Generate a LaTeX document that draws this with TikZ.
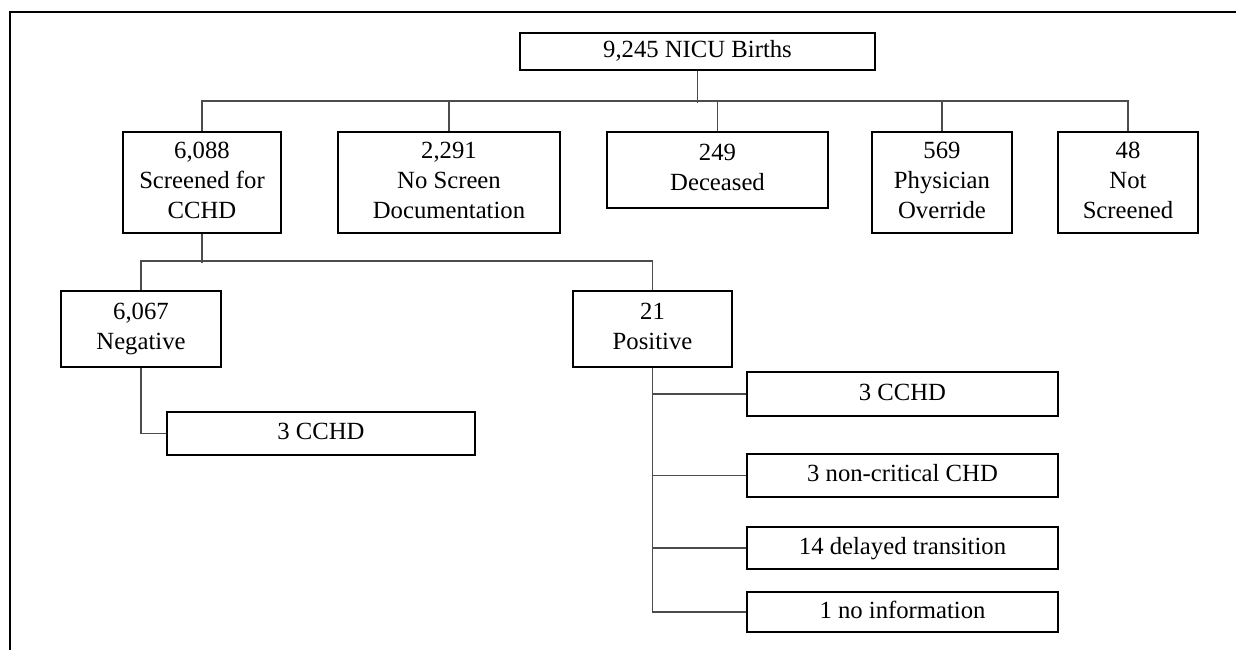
\documentclass[tikz,border=0pt]{standalone}
\usepackage{fontspec}
\setmainfont{Liberation Serif}
\usepackage{tikz}
\usetikzlibrary{calc}

\begin{document}
\begin{tikzpicture}[x=1pt, y=-1pt,
		box/.style={draw=black, line width=1.8pt, fill=white, inner sep=0pt, align=center,
			font=\fontsize{24.7}{30}\selectfont},
		oneline/.style={box, execute at begin node=\strut},
		multiline/.style={box, execute at begin node=\rule{0pt}{40pt}, execute at end node=\vphantom{g}},
		link/.style={draw=black!70, line width=1.3pt}]
		\useasboundingbox (0,0) rectangle (1236,650);
		% frame
		\draw[line width=1.3pt] (10,650) -- (10,12) -- (1236,12);
		% top level
		\node[oneline, minimum width=355pt, minimum height=37pt] (root) at (697.5,51.5) {9,245 NICU Births};
		\node[multiline, minimum width=158pt, minimum height=101pt] (scr) at (202,182.5) {6,088\\Screened for\\CCHD};
		\node[multiline, minimum width=222pt, minimum height=101pt] (nodoc) at (449,182.5) {2,291\\No Screen\\Documentation};
		\node[multiline, minimum width=221pt, minimum height=76pt] (dec) at (717.5,170) {249\\Deceased};
		\node[multiline, minimum width=140pt, minimum height=101pt] (phys) at (942,182.5) {569\\Physician\\Override};
		\node[multiline, minimum width=140pt, minimum height=101pt] (notscr) at (1128,182.5) {48\\Not\\Screened};
		\draw[link] (root.south) -- ++(0,32);
		\draw[link] (scr.north) -- ++(0,-30) -| (notscr.north);
		\draw[link] (nodoc.north) -- ++(0,-30);
		\draw[link] (dec.north) -- ++(0,-30);
		\draw[link] (phys.north) -- ++(0,-30);
		% screening result
		\node[multiline, minimum width=160pt, minimum height=76pt] (neg) at (141,329) {6,067\\Negative};
		\node[multiline, minimum width=159pt, minimum height=76pt] (pos) at (652.5,329) {21\\Positive};
		\draw[link] (scr.south) -- ++(0,29);
		\draw[link] (neg.north) -- ++(0,-29) -| (pos.north);
		% outcomes
		\node[oneline, minimum width=308pt, minimum height=43pt] (negcchd) at (321,433.5) {3 CCHD};
		\draw[link] (neg.south) |- (negcchd.west);
		\node[oneline, minimum width=311pt, minimum height=44pt] (poscchd) at (902.5,394) {3 CCHD};
		\node[oneline, minimum width=311pt, minimum height=43pt] (noncrit) at (902.5,475.5) {3 non-critical CHD};
		\node[oneline, minimum width=311pt, minimum height=42pt] (delayed) at (902.5,548) {14 delayed transition};
		\node[oneline, minimum width=311pt, minimum height=40pt] (noinfo) at (902.5,612) {1 no information};
		\draw[link] (pos.south) |- (noinfo.west);
		\draw[link] (pos.south |- poscchd.west) -- (poscchd.west);
		\draw[link] (pos.south |- noncrit.west) -- (noncrit.west);
		\draw[link] (pos.south |- delayed.west) -- (delayed.west);
	\end{tikzpicture}
\end{document}
